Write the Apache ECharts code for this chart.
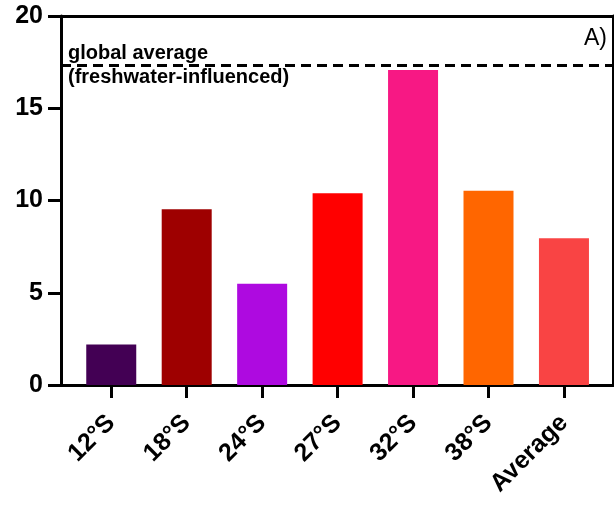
<!DOCTYPE html>
<html>
<head>
<meta charset="utf-8">
<script src="https://cdn.jsdelivr.net/npm/echarts@6/dist/echarts.min.js"></script>
<style>
  html, body { margin: 0; padding: 0; background: #fff; }
  #chart { width: 614px; height: 505px; }
</style>
</head>
<body>
<div id="chart"></div>
<script>
// Sites along the coast plus the overall average
const categories = ['12°S', '18°S', '24°S', '27°S', '32°S', '38°S', 'Average'];
const values = [2.2, 9.52, 5.49, 10.39, 17.07, 10.53, 7.95];
const barColors = ['#430054', '#9e0000', '#ae0ae0', '#ff0000', '#f71884', '#ff6600', '#f94444'];
const yTicks = [0, 5, 10, 15, 20];
const globalAverage = 17.34;
const globalLabel = 'global average\n(freshwater-influenced)';
const panelTag = 'A)';

const positions = categories.map((_, i) => i);
const font = 'Liberation Sans, Arial, sans-serif';
const frameLine = { show: true, onZero: false, lineStyle: { color: '#000', width: 3 } };

const chart = echarts.init(document.getElementById('chart'), null, { renderer: 'canvas' });

chart.setOption({
  animation: false,
  backgroundColor: '#fff',
  grid: { left: 61, right: 1, top: 16, bottom: 120, containLabel: false },
  xAxis: [
    {
      type: 'value',
      min: -0.666,
      max: 6.65,
      splitLine: { show: false },
      axisLine: frameLine,
      axisTick: {
        show: true, length: 13, lineStyle: { color: '#000', width: 3 },
        customValues: positions
      },
      axisLabel: {
        customValues: positions,
        formatter: v => categories[Math.round(v)],
        rotate: 45,
        margin: 34,
        color: '#000',
        fontFamily: font,
        fontWeight: 'bold',
        fontSize: 25
      }
    },
    {
      type: 'value',
      position: 'top',
      min: 0, max: 1,
      axisLine: frameLine,
      axisTick: { show: false },
      axisLabel: { show: false },
      splitLine: { show: false }
    }
  ],
  yAxis: [
    {
      type: 'value',
      min: 0,
      max: 20,
      interval: 5,
      splitLine: { show: false },
      axisLine: frameLine,
      axisTick: { show: true, length: 13, lineStyle: { color: '#000', width: 3 } },
      axisLabel: {
        margin: 18,
        color: '#000',
        fontFamily: font,
        fontWeight: 'bold',
        fontSize: 25,
        formatter: v => (yTicks.includes(v) ? String(v) : '')
      }
    },
    {
      type: 'value',
      position: 'right',
      min: 0, max: 1,
      axisLine: frameLine,
      axisTick: { show: false },
      axisLabel: { show: false },
      splitLine: { show: false }
    }
  ],
  graphic: [
    {
      type: 'text',
      right: 7,
      top: 27,
      style: { text: panelTag, font: '23px ' + font, fill: '#000' }
    }
  ],
  series: [
    {
      type: 'bar',
      xAxisIndex: 0,
      yAxisIndex: 0,
      barWidth: 50,
      data: values.map((v, i) => ({ value: [i, v], itemStyle: { color: barColors[i] } })),
      markLine: {
        symbol: 'none',
        silent: true,
        lineStyle: { color: '#000', width: 3, type: [10, 6] },
        label: {
          show: true,
          position: 'insideStart',
          formatter: globalLabel,
          color: '#000',
          fontFamily: font,
          fontWeight: 'bold',
          fontSize: 20,
          lineHeight: 24,
          align: 'left',
          distance: 0,
          offset: [7, 0]
        },
        data: [{ yAxis: globalAverage }]
      }
    }
  ]
});
</script>
</body>
</html>
